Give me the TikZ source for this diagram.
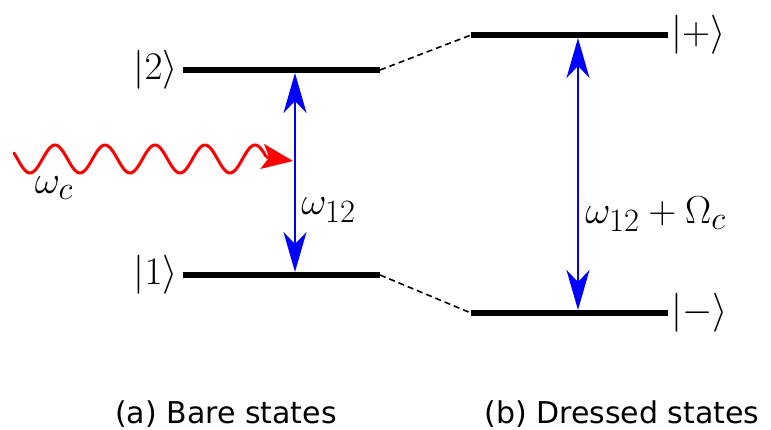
\documentclass[tikz,border=0pt]{standalone}
\usepackage{fontspec}
\newfontfamily\capfont{DejaVu Sans}
\usetikzlibrary{arrows.meta}
\begin{document}
\begin{tikzpicture}[x=1pt,y=-1pt,
  level/.style={line width=5.5pt},
  conn/.style={dashed,line width=1.6pt,dash pattern=on 6pt off 4pt},
  trans/.style={blue,line width=2.2pt,{Stealth[length=40pt,width=23pt,inset=12pt]}-{Stealth[length=40pt,width=23pt,inset=12pt]}},
  lab/.style={inner sep=0pt,font=\Huge,scale=1.57},
  captxt/.style={inner sep=0pt,font=\capfont\fontsize{30}{36}\selectfont}]
\useasboundingbox (0,0) rectangle (771,430);
% levels
\coordinate (b2l) at (183,70);  \coordinate (b2r) at (380,70);
\coordinate (b1l) at (183,275); \coordinate (b1r) at (380,275);
\coordinate (dpl) at (471,35);  \coordinate (dpr) at (668,35);
\coordinate (dml) at (471,313); \coordinate (dmr) at (668,313);
\draw[level] (b2l) -- (b2r);
\draw[level] (b1l) -- (b1r);
\draw[level] (dpl) -- (dpr);
\draw[level] (dml) -- (dmr);
\draw[conn] (b2r) -- (dpl);
\draw[conn] (b1r) -- (dml);
% transitions
\coordinate (t2) at (295,73);  \coordinate (t1) at (295,272);
\coordinate (tp) at (578,38);  \coordinate (tm) at (578,310);
\draw[trans] (t1) -- (t2);
\draw[trans] (tm) -- (tp);
% wave
\coordinate (we) at (266,157);
\coordinate (wt) at (293,161);
\draw[red,line width=3pt,line cap=round] plot[domain=14:266,samples=160,smooth] (\x,{159-14*cos(7.2*(\x-55))});
\draw[red,line width=3pt,-{Stealth[length=31pt,width=25pt,inset=7pt]}] (we) -- (wt);
% labels
\node[lab,anchor=east] (l2) at (178,70) {$|2\rangle$};
\node[lab,anchor=east] (l1) at (178,275) {$|1\rangle$};
\node[lab,anchor=west] (lp) at (671,35) {$|{+}\rangle$};
\node[lab,anchor=west] (lm) at (671,313) {$|{-}\rangle$};
\node[lab] (wc) at (54,188) {$\omega_c$};
\node[lab,anchor=west] (w12) at (301,210) {$\omega_{12}$};
\node[lab,anchor=west] (w12o) at (585,214) {$\omega_{12}+\Omega_c$};
\node[captxt,anchor=base] (ca) at (226,423) {(a) Bare states};
\node[captxt,anchor=base] (cb) at (622,423) {(b) Dressed states};
\end{tikzpicture}
\end{document}
